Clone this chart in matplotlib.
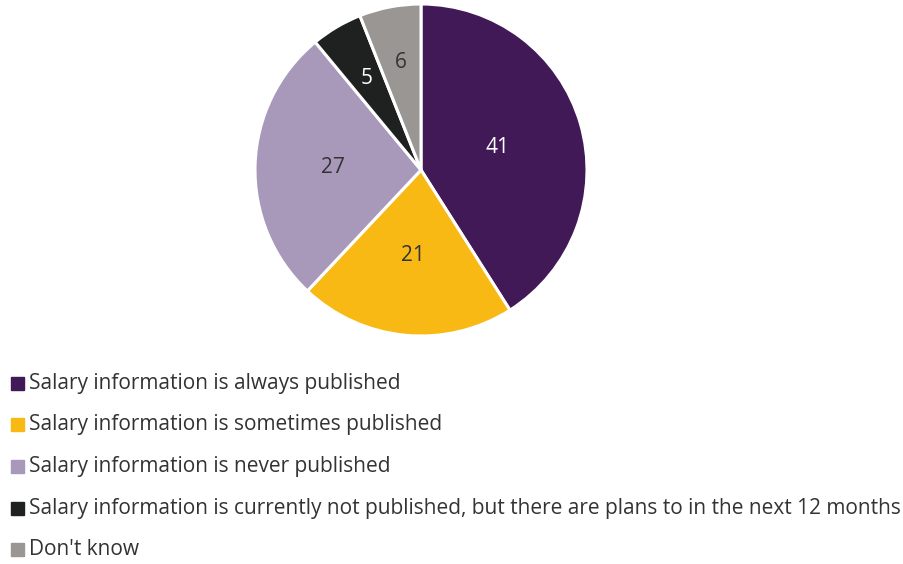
import matplotlib
matplotlib.use("Agg")
import matplotlib.pyplot as plt
import numpy as np

# Survey answers (percent)
labels = [
    "Salary information is always published",
    "Salary information is sometimes published",
    "Salary information is never published",
    "Salary information is currently not published, but there are plans to in the next 12 months",
    "Don't know",
]
values = [41, 21, 27, 5, 6]
colors = ["#421957", "#F9B915", "#A899BA", "#1F2120", "#9A9693"]
text_colors = ["white", "#333333", "#333333", "white", "#333333"]
label_radius = [0.48, 0.52, 0.53, 0.64, 0.66]

plt.rcParams['font.family'] = ['Open Sans', 'DejaVu Sans']

W, H = 904, 564
fig = plt.figure(figsize=(W / 100, H / 100), dpi=100)

# pie axes placed by pixel position of the circle
cx, cy, r = 421, 170, 166
ax = fig.add_axes([(cx - r) / W, (H - cy - r) / H, 2 * r / W, 2 * r / H])

wedges, _ = ax.pie(values, colors=colors, startangle=90, counterclock=False,
                   wedgeprops=dict(edgecolor="white", linewidth=2.2))
ax.set_xlim(-1, 1)
ax.set_ylim(-1, 1)
ax.set_aspect("equal")
ax.axis("off")

# value labels at the middle of each wedge
for w, v, tc, lr in zip(wedges, values, text_colors, label_radius):
    ang = np.deg2rad((w.theta1 + w.theta2) / 2)
    ax.text(lr * np.cos(ang), lr * np.sin(ang), str(v), ha="center", va="center",
            color=tc, fontsize=15)

# legend
for i, (lab, c) in enumerate(zip(labels, colors)):
    y = 383 + i * 41.7
    fig.patches.append(plt.Rectangle((11 / W, (H - y - 6.5) / H), 13 / W, 13 / H,
                                     transform=fig.transFigure, color=c))
    fig.text(29 / W, (H - y) / H, lab, ha="left", va="center", fontsize=15.05,
             color="#333333")

fig.savefig("out.png", dpi=100)
